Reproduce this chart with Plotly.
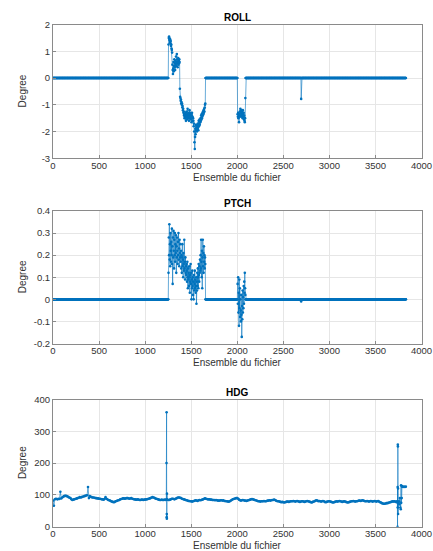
import plotly.graph_objects as go

# ---------------- data ----------------
STEP = 3  # ROLL / PTCH sample spacing (index units)

ROLL_MAIN = [
    1.25, 1.5, 1.55, 1.42, 1.48, 1.35, 1.45, 1.3, 1.38,
    1.2, 1.25, 1.1, 1.05,
    0.95, 0.5, 0.3, 0.15,
    0.35, 0.6, 0.25, 0.45, 0.7, 0.4, 0.55, 0.3, 0.65, 0.5, 0.8, 0.45,
    0.6, 0.9, 0.55, 0.7, 0.4, 0.6, 0.75, 0.5, 0.65, 0.55, 0.7, 0.6,
    -0.4,
    -0.7, -0.75, -0.85, -0.8, -0.95, -0.9,
    -1.0, -0.95, -1.1, -1.05, -1.2, -1.15,
    -1.3, -1.25, -1.4, -1.35, -1.5, -1.45,
    -1.35, -1.5, -1.3, -1.6, -1.4, -1.25, -1.45, -1.55, -1.35, -1.15,
    -1.4, -1.5, -1.3, -1.45, -1.6, -1.35, -1.2, -1.5, -1.4, -1.3,
    -1.55, -1.45, -1.35, -1.65, -1.4, -1.3, -1.5, -1.45, -1.6, -1.5,
    -1.6, -1.8, -1.7, -2.0, -2.4, -2.65, -2.2, -1.9, -2.1, -1.75, -1.95, -1.85,
    -1.8, -2.0, -1.75, -1.9, -1.7, -1.85, -1.95, -1.6, -1.8, -1.7, -1.55, -1.75, -1.6, -1.65,
    -1.5, -1.6, -1.4, -1.55, -1.35, -1.5, -1.45, -1.3, -1.4, -1.25, -1.35, -1.2,
    -1.3, -1.15, -1.25, -1.1, -1.0, -0.95,
]
ROLL_SEG2 = [
    -1.35, -1.45, -1.3, -1.5, -1.4, -1.65, -1.35, -1.45, -1.25, -1.4,
    -1.15, -1.3, -1.2, -1.45, -1.35, -1.25, -1.4, -1.3, -1.5, -1.2,
    -1.35, -1.45, -1.3, -1.55, -1.4, -1.6, -1.65, -1.5, -0.75,
]
ROLL_SPIKE = [-0.78]

PTCH_MAIN = [
    0.12, 0.28, 0.2, 0.34, 0.18, 0.25, 0.15, 0.3, 0.22, 0.17,
    0.26, 0.2, 0.32, 0.16, 0.24, 0.07, 0.28, 0.19, 0.31, 0.22, 0.14, 0.27,
    0.2, 0.3, 0.17, 0.25, 0.21, 0.29, 0.12, 0.24, 0.19, 0.28, 0.22, 0.16,
    0.26, 0.2, 0.3, 0.18, 0.23, 0.15, 0.27, 0.21, 0.19, 0.25,
    0.17, 0.22, 0.14, 0.2, 0.12, 0.19, 0.25, 0.15, 0.18, 0.1, 0.21,
    0.16, 0.13, 0.27, 0.14, 0.17, 0.09, 0.19, 0.12, 0.15, 0.11, 0.16,
    0.13, 0.08, 0.17, 0.1, 0.05, 0.14, 0.09, 0.12, 0.06, 0.15, 0.1, 0.03,
    0.11, 0.08, 0.16, 0.07, 0.12, 0.0, 0.09, 0.05, 0.13, 0.06, 0.1, 0.02,
    0.08, 0.0, 0.11, 0.04, 0.07, 0.13, 0.05, 0.09, 0.03, 0.06, 0.1,
    -0.02, 0.08, 0.04, 0.12, 0.06, 0.14, 0.1, 0.05, 0.16, 0.11, 0.08, 0.15, 0.12, 0.18, 0.13,
    0.2, 0.14, 0.27, 0.17, 0.1, 0.22, 0.05, 0.19, 0.27, 0.15, 0.21, 0.12,
    0.24, 0.17, 0.2, 0.14, 0.19, 0.16,
]
PTCH_SEG2 = [
    0.07, -0.02, 0.1, -0.06, 0.03, -0.12, 0.09, -0.04, 0.05, -0.08,
    0.0, -0.05, -0.1, 0.02, -0.07, -0.17, -0.03, -0.09, 0.04, -0.06,
    0.01, -0.04, 0.06, -0.02, 0.08, 0.03, 0.12, 0.05, 0.02,
]
PTCH_SPIKE = [-0.01]

# zero-run lengths (in samples) around the active segments
ZERO_RUN_1 = 418   # indices 0 .. 1251
ZERO_RUN_2 = 116   # indices 1656 .. 2001
ZERO_RUN_3 = 201   # indices 2091 .. 2691
ZERO_RUN_4 = 379   # indices 2697 .. 3831

# HDG: regular samples every 10 indices, plus detailed spike and tail
HDG_STEP = 10
HDG_PART1 = [  # x = 0 .. 1230
    82, 66, 86, 88, 87, 86, 88, 87, 110, 89,
    92, 94, 96, 97, 97, 96, 95, 93, 91, 90,
    86, 84, 85, 86, 87, 88, 89, 90, 91, 93,
    92, 93, 94, 95, 96, 97, 98, 99, 125, 90,
    96, 94, 93, 92, 92, 91, 90, 90, 89, 89,
    88, 88, 87, 86, 86, 85, 87, 93, 88, 86,
    84, 83, 82, 80, 79, 78, 77, 78, 80, 81,
    82, 83, 84, 86, 87, 88, 89, 89, 88, 89,
    90, 90, 89, 88, 89, 90, 88, 87, 86, 86,
    85, 85, 86, 85, 84, 84, 85, 85, 84, 85,
    85, 86, 86, 87, 88, 89, 90, 92, 93, 92,
    91, 89, 88, 87, 86, 85, 84, 84, 85, 84,
    84, 85, 84, 86,
]
HDG_SPIKE_X = [1232, 1233, 1234, 1235, 1236, 1237, 1238]
HDG_SPIKE_Y = [200, 360, 30, 40, 25, 104, 85]
HDG_PART2 = [  # x = 1240 .. 3720
    85, 84, 84, 85, 86, 88,
    88, 87, 86, 88, 89, 91, 92, 92, 91, 90,
    88, 87, 86, 85, 84, 83, 82, 81, 81, 80,
    80, 79, 80, 81, 82, 83, 82, 81, 83, 84,
    83, 84, 85, 86, 88, 89, 88, 87, 86, 86,
    86, 85, 85, 84, 84, 84, 83, 84, 83, 82,
    82, 82, 83, 83, 82, 83, 81, 81, 80, 80,
    79, 79, 80, 82, 84, 86, 87, 88, 89, 90,
    90, 88, 85, 83, 82, 83, 84, 83, 82, 82,
    81, 82, 83, 84, 85, 86, 87, 86, 85, 84,
    83, 82, 81, 80, 80, 79, 80, 80, 80, 81,
    80, 80, 81, 82, 82, 83, 82, 83, 84, 84,
    85, 84, 82, 81, 80, 80, 79, 78, 77, 78,
    77, 76, 77, 78, 79, 79, 78, 79, 80, 80,
    80, 81, 80, 79, 80, 81, 80, 79, 78, 79,
    80, 80, 79, 78, 79, 80, 81, 80, 79, 78,
    77, 76, 78, 79, 80, 82, 83, 82, 80, 81,
    80, 79, 80, 81, 80, 78, 77, 78, 79, 80,
    80, 79, 78, 77, 76, 77, 78, 79, 80, 79,
    80, 81, 80, 79, 78, 79, 80, 79, 78, 77,
    76, 77, 78, 79, 80, 80, 81, 80, 79, 80,
    80, 81, 82, 82, 81, 82, 83, 82, 81, 80,
    80, 81, 80, 79, 80, 81, 80, 79, 80, 81,
    80, 79, 80, 81, 79, 77, 76, 74, 73, 72,
    72, 73, 74, 74, 75, 76, 77, 78, 79, 80,
    79, 80, 78,
]
HDG_TAIL_X = [3730, 3735, 3738, 3740, 3741, 3742, 3743, 3744, 3745, 3746,
              3750, 3755, 3760, 3765, 3770, 3775, 3778, 3780, 3785, 3788,
              3790, 3800, 3810, 3820, 3830]
HDG_TAIL_Y = [78, 80, 76, 0, 125, 60, 258, 252, 120, 40,
              75, 80, 70, 90, 60, 55, 130, 75, 90, 128,
              126, 125, 126, 125, 126]

X_TICKS = [0, 500, 1000, 1500, 2000, 2500, 3000, 3500, 4000]
ROLL_TICKS = [-3, -2, -1, 0, 1, 2]
PTCH_TICKS = [-0.2, -0.1, 0, 0.1, 0.2, 0.3, 0.4]
PTCH_TICKTEXT = ["-0.2", "-0.1", "0", "0.1", "0.2", "0.3", "0.4"]
HDG_TICKS = [0, 100, 200, 300, 400]

TITLES = ["ROLL", "PTCH", "HDG"]
XLABEL = "Ensemble du fichier"
YLABEL = "Degree"

# ---------------- build series ----------------
def build(main, seg2, spike):
    ys = ([0.0] * ZERO_RUN_1 + main + [0.0] * ZERO_RUN_2 + seg2 +
          [0.0] * ZERO_RUN_3 + spike + [0.0] * ZERO_RUN_4)
    xs = [i * STEP for i in range(len(ys))]
    return xs, ys

roll_x, roll_y = build(ROLL_MAIN, ROLL_SEG2, ROLL_SPIKE)
ptch_x, ptch_y = build(PTCH_MAIN, PTCH_SEG2, PTCH_SPIKE)

hdg_x = ([i * HDG_STEP for i in range(len(HDG_PART1))] + HDG_SPIKE_X +
         [1240 + i * HDG_STEP for i in range(len(HDG_PART2))] + HDG_TAIL_X)
hdg_y = HDG_PART1 + HDG_SPIKE_Y + HDG_PART2 + HDG_TAIL_Y

BLUE = "#0072BD"
FONT = "Liberation Sans"
W, H = 433, 551

fig = go.Figure()
series = [(roll_x, roll_y), (ptch_x, ptch_y), (hdg_x, hdg_y)]
for k, (xs, ys) in enumerate(series):
    fig.add_trace(go.Scatter(
        x=xs, y=ys, mode="lines+markers",
        line=dict(color=BLUE, width=0.6),
        marker=dict(color=BLUE, size=2.6, line=dict(width=0)),
        xaxis="x" if k == 0 else f"x{k+1}",
        yaxis="y" if k == 0 else f"y{k+1}",
        showlegend=False, hoverinfo="skip",
    ))

# pixel boxes of each plot area (top, bottom)
LEFT, RIGHT = 53, 421.5
BOXES = [(24.5, 158.3), (211, 343.5), (399.5, 526.7)]
yranges = [(-3, 2), (-0.2, 0.4), (0, 400)]
ytickv = [ROLL_TICKS, PTCH_TICKS, HDG_TICKS]
ytickt = [[str(v) for v in ROLL_TICKS], PTCH_TICKTEXT, [str(v) for v in HDG_TICKS]]

axis_common = dict(
    showline=True, linecolor="#8a8a8a", linewidth=1, mirror=True,
    showgrid=True, gridcolor="#e6e6e6", gridwidth=1,
    ticks="inside", ticklen=3, tickcolor="#8a8a8a",
    tickfont=dict(family=FONT, size=9.5, color="#333333"),
    zeroline=False, fixedrange=True, ticklabeloverflow="allow",
    automargin=False,
)

layout = dict(
    width=W, height=H, margin=dict(l=0, r=0, t=0, b=0, autoexpand=False),
    paper_bgcolor="white", plot_bgcolor="white",
    font=dict(family=FONT),
    annotations=[],
)
xdom = [LEFT / W, RIGHT / W]
for k in range(3):
    top, bot = BOXES[k]
    sfx = "" if k == 0 else str(k + 1)
    layout[f"xaxis{sfx}"] = dict(
        axis_common, domain=xdom, range=[0, 4000],
        tickvals=X_TICKS, ticktext=[str(v) for v in X_TICKS],
        anchor=f"y{sfx}", ticklabelstandoff=-2,
    )
    layout[f"yaxis{sfx}"] = dict(
        axis_common, domain=[1 - bot / H, 1 - top / H], range=list(yranges[k]),
        tickvals=ytickv[k], ticktext=ytickt[k], anchor=f"x{sfx}",
    )
    cx = (LEFT + RIGHT) / 2 / W
    layout["annotations"].append(dict(
        text=f"<b>{TITLES[k]}</b>", x=cx, y=1 - (top - 7.5) / H,
        xref="paper", yref="paper", showarrow=False,
        xanchor="center", yanchor="middle",
        font=dict(family=FONT, size=10, color="black"),
    ))
    layout["annotations"].append(dict(
        text=XLABEL, x=cx, y=1 - (bot + 19) / H,
        xref="paper", yref="paper", showarrow=False,
        xanchor="center", yanchor="middle",
        font=dict(family=FONT, size=10, color="#333333"),
    ))
    layout["annotations"].append(dict(
        text=YLABEL, x=22 / W, y=1 - ((top + bot) / 2) / H,
        xref="paper", yref="paper", showarrow=False, textangle=-90,
        xanchor="center", yanchor="middle",
        font=dict(family=FONT, size=10, color="#333333"),
    ))

fig.update_layout(**layout)
fig.write_html("out.html")
